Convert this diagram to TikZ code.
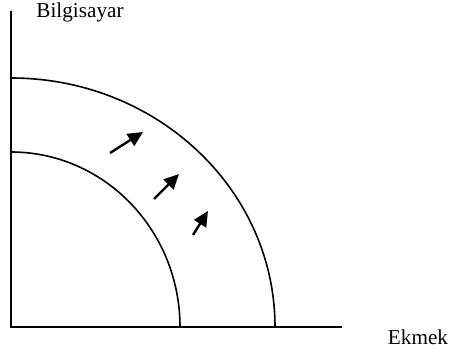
\documentclass[tikz,border=0pt]{standalone}
\usepackage{fontspec}
\setmainfont{Liberation Serif}
\usetikzlibrary{arrows.meta,positioning}

\begin{document}
\begin{tikzpicture}[x=0.5pt,y=0.5pt,
    axis/.style={line width=0.8pt},
    curve/.style={line width=0.8pt},
    shift arrow/.style={line width=1.2pt,-{Triangle[length=7.5pt,width=7pt]}},
    lbl/.style={font=\fontsize{10.6}{12}\selectfont,inner sep=0pt}]
  \useasboundingbox (-11,-27) rectangle (438,327);
  % axes
  \coordinate (O) at (0,0);
  \coordinate (ytop) at (0,316);
  \coordinate (xend) at (331,0);
  \draw[axis] (ytop) -- (O) -- (xend);
  \node[lbl] (ylabel) at (69,315) {Bilgisayar};
  \node[lbl] (xlabel) at (407,-10) {Ekmek};
  % production possibility curves
  \coordinate (innertop) at (0,175);
  \coordinate (outertop) at (0,249);
  \draw[curve] (innertop) arc[start angle=90,end angle=0,x radius=84.5pt,y radius=87.5pt];
  \draw[curve] (outertop) arc[start angle=90,end angle=0,x radius=132pt,y radius=124.5pt];
  % outward shift
  \coordinate (a1) at (99,174);  \coordinate (b1) at (132,195);
  \coordinate (a2) at (143,128); \coordinate (b2) at (168,153);
  \coordinate (a3) at (182,92);  \coordinate (b3) at (197,116);
  \foreach \i in {1,2,3}
    \draw[shift arrow] (a\i) -- (b\i);
\end{tikzpicture}
\end{document}
